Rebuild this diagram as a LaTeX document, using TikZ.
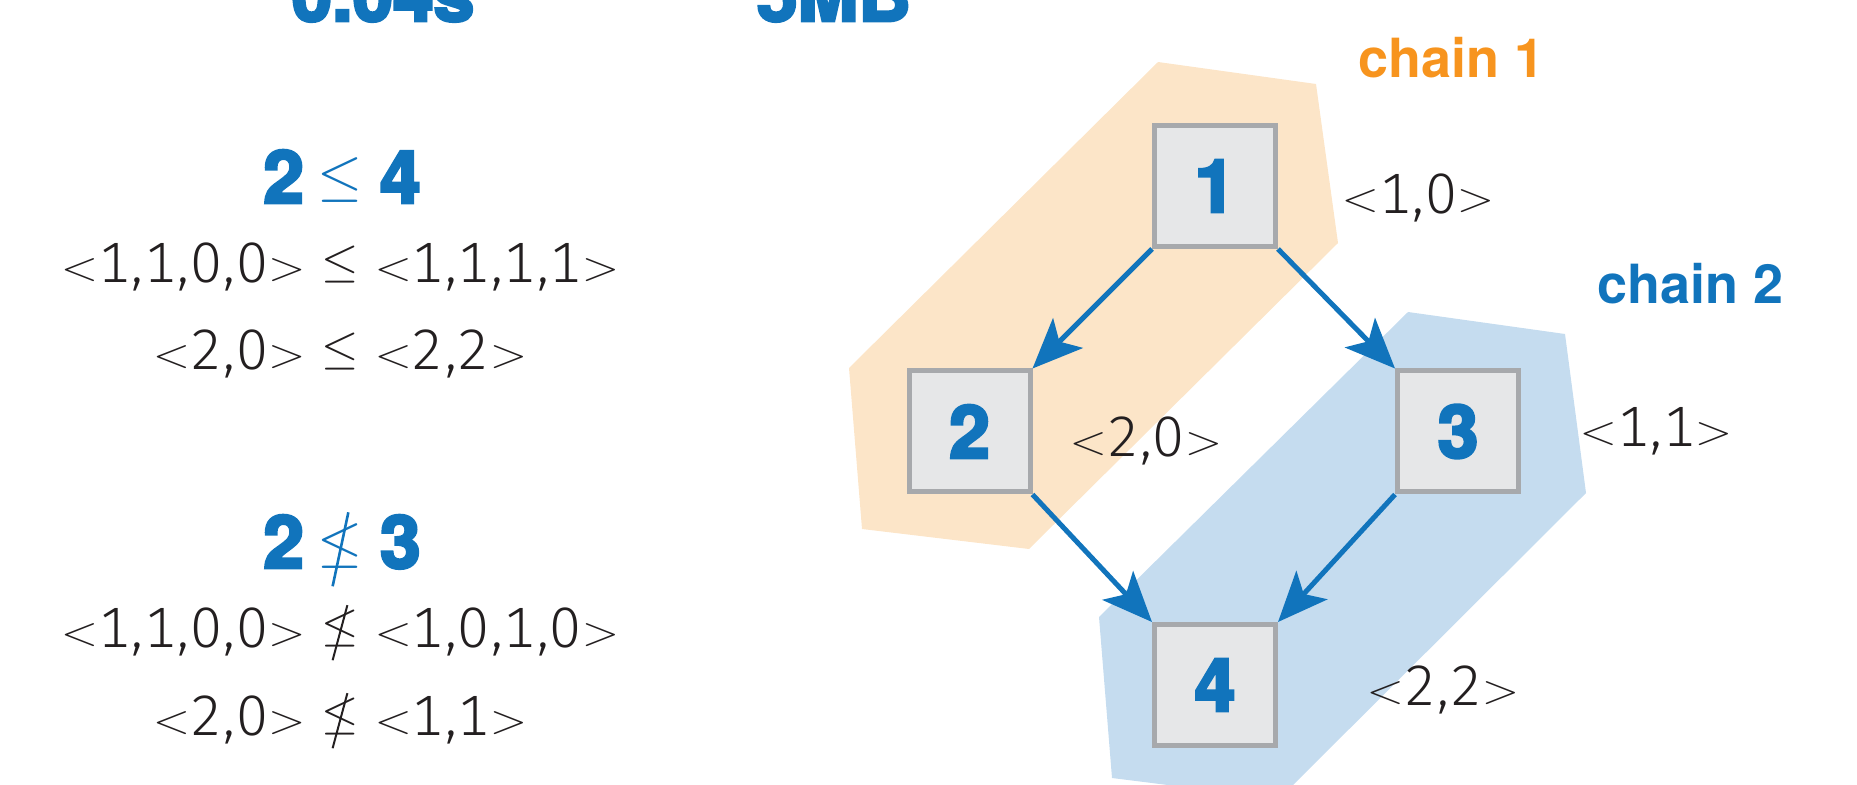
\RequirePackage{fix-cm}
\documentclass[tikz,border=0pt]{standalone}
\usepackage{amsmath,amssymb,graphicx}
\usepackage{fontspec}
\setmainfont{TeX Gyre Heros}
\IfFontExistsTF{Fira Sans Light}
  {\newfontfamily\thinfamily{Fira Sans Light}[Numbers=Monospaced,LetterSpace=2]}
  {\newfontfamily\thinfamily{TeX Gyre Heros}}
\newfontfamily\heavyfamily{TeX Gyre Heros}[BoldFeatures={FakeBold=4}]
\usetikzlibrary{arrows.meta}
\definecolor{cblue}{RGB}{17,116,188}
\definecolor{corange}{RGB}{247,148,30}
\definecolor{lorange}{RGB}{252,229,200}
\definecolor{lblue}{RGB}{197,220,239}
\definecolor{boxfill}{RGB}{230,231,232}
\definecolor{boxgray}{RGB}{167,169,172}
\definecolor{tblack}{RGB}{35,31,32}
\newcommand\mynum{\heavyfamily\fontsize{36.5}{40}\selectfont\bfseries}
\newcommand\mythin{\thinfamily\fontsize{28.5}{32}\selectfont}
\newcommand\mychain{\fontsize{27}{30}\selectfont\bfseries}
\newcommand\mylt{\raisebox{1pt}{\scalebox{1}[0.85]{\fontsize{24.5}{24}\selectfont$<$}}}
\newcommand\mygt{\raisebox{1pt}{\scalebox{1}[0.85]{\fontsize{24.5}{24}\selectfont$>$}}}
\newcommand\myle{\raisebox{3.3pt}{\fontsize{24}{24}\selectfont$\leq$}}
\newcommand\mynle{\raisebox{3.3pt}{\fontsize{24}{24}\selectfont\ooalign{$\leq$\cr
  \hidewidth\raisebox{-9.8pt}{\rotatebox{-15}{\rule{1pt}{28.5pt}}}\hidewidth\cr}}}
\newcommand\mybigle{\raisebox{4pt}{\fontsize{29}{29}\selectfont$\leq$}}
\newcommand\mybignle{\raisebox{4pt}{\fontsize{29}{29}\selectfont\ooalign{$\leq$\cr
  \hidewidth\raisebox{-13pt}{\rotatebox{-12}{\rule{1.3pt}{37.8pt}}}\hidewidth\cr}}}
\begin{document}
\begin{tikzpicture}[x=0.5pt,y=-0.5pt,
  box/.style={draw=boxgray, fill=boxfill, line width=2.5pt, minimum width=60.5pt,
    minimum height=60.5pt, inner sep=0pt, font=\mynum, text=cblue},
  arr/.style={draw=cblue, line width=2.5pt, -{Stealth[length=25pt,width=21pt,inset=6pt]}},
  tuple/.style={font=\mythin, text=tblack, anchor=base, inner sep=0pt},
  head/.style={text=cblue, anchor=base, inner sep=0pt},
  top/.style={font=\mynum, text=cblue, anchor=base, inner sep=0pt},
  chain/.style={font=\mychain, anchor=base west, inner sep=0pt}]
\useasboundingbox (0,0) rectangle (1857,785);
\clip (0,0) rectangle (1857,785);
% chain regions
\fill[lorange] (1158,62) -- (1316,84) -- (1338,243) -- (1029,549) -- (862,529) -- (849,368) -- cycle;
\fill[lblue] (1408,312) -- (1565,334) -- (1586,493) -- (1279,799) -- (1112,778) -- (1099,617) -- cycle;
% top labels (clipped)
\node[top] (t1) at (383,21) {0.04s};
\node[top] (t2) at (834,21) {5MB};
% left column
\node[head] (h1) at (342,203) {{\mynum 2}\hspace{7pt}\mybigle\hspace{8.5pt}{\mynum 4}};
\node[tuple] (l1) at (340,283) {\mylt 1,1,0,0\mygt\hspace{8pt}\myle\hspace{8pt}\mylt 1,1,1,1\mygt};
\node[tuple] (l2) at (340,370) {\mylt 2,0\mygt\hspace{8pt}\myle\hspace{8pt}\mylt 2,2\mygt};
\node[head] (h2) at (342,568) {{\mynum 2}\hspace{7pt}\mybignle\hspace{8.5pt}{\mynum 3}};
\node[tuple] (l3) at (340,647) {\mylt 1,1,0,0\mygt\hspace{8pt}\mynle\hspace{8pt}\mylt 1,0,1,0\mygt};
\node[tuple] (l4) at (340,735) {\mylt 2,0\mygt\hspace{8pt}\mynle\hspace{8pt}\mylt 1,1\mygt};
% graph
\node[box] (b1) at (1215,186) {1};
\node[box] (b2) at (969.5,431.5) {2};
\node[box] (b3) at (1458,431.5) {3};
\node[box] (b4) at (1215,685) {4};
\draw[arr] (b1.south west) -- (b2.north east);
\draw[arr] (b1.south east) -- (b3.north west);
\draw[arr] (b2.south east) -- (b4.north west);
\draw[arr] (b3.south west) -- (b4.north east);
% vector clocks
\node[tuple] (v1) at (1418,214) {\mylt 1,0\mygt};
\node[tuple] (v2) at (1146,457) {\mylt 2,0\mygt};
\node[tuple] (v3) at (1656,447) {\mylt 1,1\mygt};
\node[tuple] (v4) at (1443,705) {\mylt 2,2\mygt};
% chain labels
\node[chain, text=corange] (c1) at (1358,78) {chain 1};
\node[chain, text=cblue] (c2) at (1597,304) {chain 2};
\end{tikzpicture}
\end{document}
